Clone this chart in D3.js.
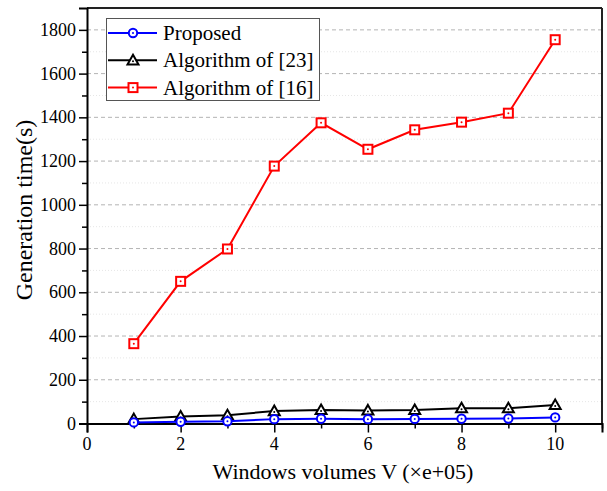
<!DOCTYPE html>
<html><head><meta charset="utf-8">
<script src="https://cdn.jsdelivr.net/npm/d3@7"></script>
<style>body{margin:0;background:#fff}svg{display:block}</style>
</head><body>
<svg id="c" width="607" height="491"></svg>
<script>
const xValues = [1,2,3,4,5,6,7,8,9,10];
const proposed = [5,8,10,20,22,20,21,22,23,28];
const alg23 = [20,32,38,57,62,60,62,70,70,85];
const alg16 = [365,650,798,1177,1375,1254,1343,1378,1419,1755];
const seriesNames = ["Proposed","Algorithm of [23]","Algorithm of [16]"];
const seriesColors = ["#0000ff","#000000","#ff0000"];
const seriesShapes = ["circle","triangle","square"];
const xTicks = [0,2,4,6,8,10];
const yTicks = [0,200,400,600,800,1000,1200,1400,1600,1800];

const FONT = "'Liberation Serif', serif";
const svg = d3.select("#c").style("font-family",FONT);
const L=87, R=602, T=8, B=423.5;
const x = d3.scaleLinear().domain([0,11]).range([L,R]);
const y = d3.scaleLinear().domain([0,1900]).range([B,T]);

// gridlines
const minorY = d3.range(100,1900,200);
svg.append("g").selectAll("line").data(minorY).join("line")
  .attr("x1",L).attr("x2",R).attr("y1",d=>y(d)).attr("y2",d=>y(d))
  .attr("stroke","#e6e6e6").attr("stroke-width",1).attr("stroke-dasharray","1,2");
svg.append("g").selectAll("line").data(yTicks.filter(d=>d>0)).join("line")
  .attr("x1",L).attr("x2",R).attr("y1",d=>y(d)).attr("y2",d=>y(d))
  .attr("stroke","#b4b4b4").attr("stroke-width",1).attr("stroke-dasharray","4,3");

// frame
svg.append("line").attr("x1",L).attr("x2",R).attr("y1",T).attr("y2",T).attr("stroke","#222").attr("stroke-width",2);
svg.append("line").attr("x1",R).attr("x2",R).attr("y1",T).attr("y2",B).attr("stroke","#222").attr("stroke-width",2);

// axes (ticks via d3 axes, labels placed as untransformed text)
svg.append("g").attr("transform",`translate(0,${B})`)
  .call(d3.axisBottom(x).tickValues(xTicks).tickSize(9).tickFormat(""));
svg.append("g").attr("transform",`translate(0,${B})`)
  .call(d3.axisBottom(x).tickValues([1,3,5,7,9,11]).tickSize(5).tickFormat(""))
  .call(g=>g.select(".domain").remove());
svg.append("g").attr("transform",`translate(${L},0)`)
  .call(d3.axisLeft(y).tickValues(yTicks).tickSize(8).tickFormat(""));
svg.append("g").attr("transform",`translate(${L},0)`)
  .call(d3.axisLeft(y).tickValues(minorY).tickSize(5).tickFormat(""))
  .call(g=>g.select(".domain").remove());
svg.selectAll(".domain").attr("stroke","#000").attr("stroke-width",2);
svg.selectAll(".tick line").attr("stroke","#000").attr("stroke-width",1.5);

svg.append("g").selectAll("text").data(xTicks).join("text")
  .attr("x",d=>x(d)).attr("y",B+26).attr("text-anchor","middle")
  .style("font-family",FONT).attr("font-size",18).attr("fill","#000").text(d=>d);
svg.append("g").selectAll("text").data(yTicks).join("text")
  .attr("x",L-11).attr("y",d=>y(d)+6).attr("text-anchor","end")
  .style("font-family",FONT).attr("font-size",18).attr("fill","#000").text(d=>d);

// axis titles
svg.append("text").attr("x",343).attr("y",479).attr("text-anchor","middle")
  .style("font-family",FONT).attr("font-size",22).text("Windows volumes V (×e+05)");
const defs = svg.append("defs");
defs.append("path").attr("id","ytitlepath").attr("d","M32,400V0");
svg.append("text").style("font-family",FONT).attr("font-size",24)
  .append("textPath").attr("href","#ytitlepath").attr("startOffset",400-210).attr("text-anchor","middle")
  .text("Generation time(s)");

function marker(g, shape, color, cx, cy){
  if(shape==="circle"){
    g.append("circle").attr("cx",cx).attr("cy",cy).attr("r",4.2).attr("fill","#fff").attr("stroke",color).attr("stroke-width",2);
  } else if(shape==="triangle"){
    const s=5.5;
    g.append("path").attr("d",`M${cx},${cy-s}L${cx+s},${cy+s*0.75}L${cx-s},${cy+s*0.75}Z`).attr("fill","#fff").attr("stroke",color).attr("stroke-width",2);
  } else {
    const s=4.5;
    g.append("rect").attr("x",cx-s).attr("y",cy-s).attr("width",2*s).attr("height",2*s).attr("fill","#fff").attr("stroke",color).attr("stroke-width",2);
  }
  g.append("circle").attr("cx",cx).attr("cy",cy+(shape==="triangle"?1:0)).attr("r",1).attr("fill",color);
}

const allSeries=[proposed,alg23,alg16];
const line = d3.line().x((d,i)=>x(xValues[i])).y(d=>y(d));
[2,1,0].forEach(k=>{
  const g=svg.append("g");
  g.append("path").datum(allSeries[k]).attr("d",line).attr("fill","none").attr("stroke",seriesColors[k]).attr("stroke-width",2);
  allSeries[k].forEach((v,i)=>marker(g,seriesShapes[k],seriesColors[k],x(xValues[i]),y(v)));
});

// legend
const lg=svg.append("g");
lg.append("rect").attr("x",106.5).attr("y",18.5).attr("width",213).attr("height",82).attr("fill","#fff").attr("stroke","#555").attr("stroke-width",1);
seriesNames.forEach((n,k)=>{
  const yy=33+k*27.3;
  lg.append("line").attr("x1",108).attr("x2",157).attr("y1",yy).attr("y2",yy).attr("stroke",seriesColors[k]).attr("stroke-width",2);
  marker(lg,seriesShapes[k],seriesColors[k],133,yy);
  lg.append("text").attr("x",163).attr("y",yy+7).style("font-family",FONT).attr("font-size",21).text(n);
});
</script>
</body></html>
